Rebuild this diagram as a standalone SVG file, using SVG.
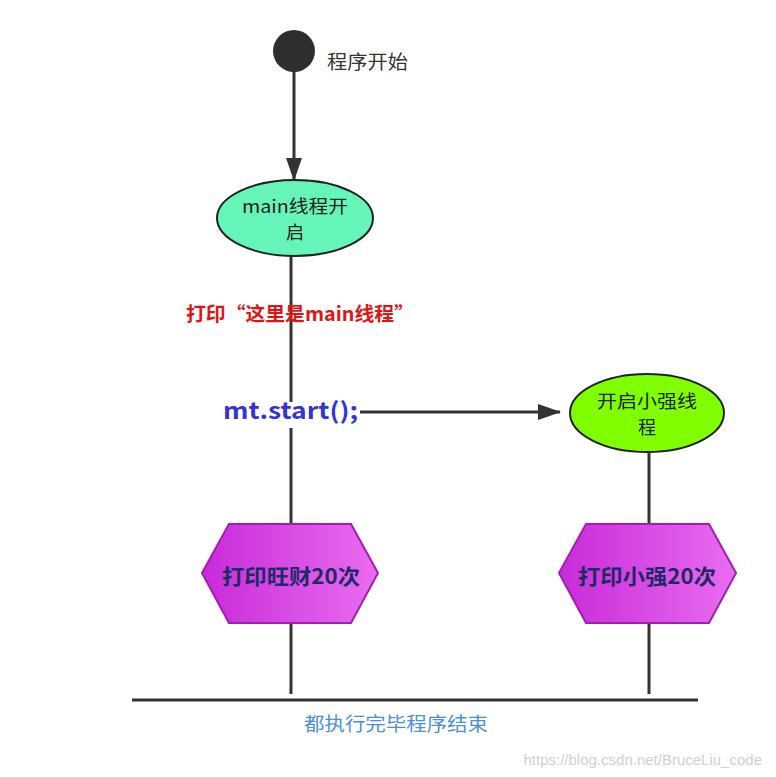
<svg xmlns="http://www.w3.org/2000/svg" width="776" height="777" viewBox="0 0 776 777">
<style>
.cn{font-family:"Noto Sans CJK SC","Noto Sans",sans-serif;}
.line{stroke:#333;stroke-width:3;fill:none;}
.node-text{font-size:18px;fill:#222;text-anchor:middle;}
.hex{stroke:#a51cb5;stroke-width:2;fill:url(#hexGrad);}
.hex-text{font-size:21px;font-weight:bold;fill:#1e2a66;text-anchor:middle;}
</style>
<defs>
<marker id="arrowBig" markerWidth="24" markerHeight="16" refX="22" refY="8" orient="auto" markerUnits="userSpaceOnUse">
<path d="M0,0 L23,8 L0,16 Z" fill="#333"/>
</marker>
<linearGradient id="hexGrad" x1="0" y1="0" x2="1" y2="0">
<stop offset="0" stop-color="#c72bd9"/>
<stop offset="1" stop-color="#ea6cf0"/>
</linearGradient>
</defs>
<rect width="776" height="777" fill="#fff"/>
<g id="connectors">
<line class="line" x1="294" y1="72" x2="294" y2="180" marker-end="url(#arrowBig)"/>
<line class="line" x1="291" y1="256" x2="291" y2="402"/>
<line class="line" x1="291" y1="428" x2="291" y2="524"/>
<line class="line" x1="360" y1="412" x2="560" y2="412" marker-end="url(#arrowBig)"/>
<line class="line" x1="649" y1="453" x2="649" y2="524"/>
<line class="line" x1="291" y1="623" x2="291" y2="694"/>
<line class="line" x1="649" y1="623" x2="649" y2="694"/>
<line class="line" x1="132" y1="700" x2="698" y2="700"/>
</g>
<g id="start">
<circle cx="294" cy="51" r="21" fill="#2e2e2e"/>
<text class="cn" x="327" y="69" font-size="19" fill="#333" textLength="81" lengthAdjust="spacingAndGlyphs">程序开始</text>
</g>
<g id="main-thread">
<ellipse cx="295" cy="218" rx="78" ry="38" fill="#66f5b8" stroke="#222" stroke-width="2"/>
<text class="cn node-text" x="295" y="213" textLength="106" lengthAdjust="spacingAndGlyphs">main线程开</text>
<text class="cn node-text" x="295" y="239">启</text>
</g>
<g id="print-main">
<text class="cn" x="186" y="321" font-size="19" font-weight="bold" fill="#e01414" textLength="228" lengthAdjust="spacingAndGlyphs">打印“这里是main线程”</text>
</g>
<g id="mt-start">
<text class="cn" x="223" y="419" font-size="23" font-weight="bold" fill="#3434d6" textLength="135" lengthAdjust="spacingAndGlyphs">mt.start();</text>
</g>
<g id="xiaoqiang-thread">
<ellipse cx="647" cy="413" rx="77" ry="39" fill="#7fff00" stroke="#222" stroke-width="2"/>
<text class="cn node-text" x="647" y="408" textLength="100" lengthAdjust="spacingAndGlyphs">开启小强线</text>
<text class="cn node-text" x="647" y="434">程</text>
</g>
<g id="print-wangcai">
<polygon class="hex" points="202,573 229,524 351,524 378,573 351,623 229,623"/>
<text class="cn hex-text" x="291" y="584" textLength="138" lengthAdjust="spacingAndGlyphs">打印旺财20次</text>
</g>
<g id="print-xiaoqiang">
<polygon class="hex" points="559,573 586,524 709,524 736,573 709,623 586,623"/>
<text class="cn hex-text" x="647" y="584" textLength="138" lengthAdjust="spacingAndGlyphs">打印小强20次</text>
</g>
<g id="end">
<text class="cn" x="304" y="731" font-size="19" fill="#4a8fd8" textLength="184" lengthAdjust="spacingAndGlyphs">都执行完毕程序结束</text>
</g>
<text x="762" y="765" font-family="Liberation Sans, sans-serif" font-size="15" fill="#d0d0d0" text-anchor="end">https://blog.csdn.net/BruceLiu_code</text>
</svg>
